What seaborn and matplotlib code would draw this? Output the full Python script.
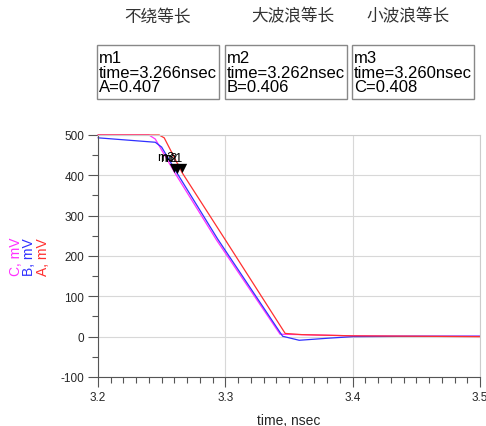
import matplotlib
matplotlib.use("Agg")
import matplotlib.pyplot as plt
import seaborn as sns
import pandas as pd
from matplotlib.ticker import MultipleLocator

# ---- data ----
time_A = [3.200, 3.248, 3.252, 3.266, 3.300, 3.347, 3.360, 3.400, 3.450, 3.500]
val_A  = [500,   500,   493,   407,   240,   8,     5,     2,     1,     0]
time_B = [3.200, 3.245, 3.250, 3.262, 3.294, 3.345, 3.358, 3.380, 3.400, 3.450, 3.500]
val_B  = [493,   482,   470,   406,   242,   1,     -9,    -4,    0,     1,     1]
time_C = [3.200, 3.240, 3.245, 3.260, 3.293, 3.343, 3.360, 3.400, 3.450, 3.500]
val_C  = [500,   500,   490,   408,   240,   6,     5,     2,     1,     1]

marker_names = ["m1", "m2", "m3"]
marker_times = [3.266, 3.262, 3.260]
marker_vals  = [407, 406, 408]
marker_series = ["A", "B", "C"]

titles = ["不绕等长", "大波浪等长", "小波浪等长"]
x_ticks = [3.2, 3.3, 3.4, 3.5]
y_ticks = [-100, 0, 100, 200, 300, 400, 500]

colors = {"A": "#ff3030", "B": "#3030ff", "C": "#ff30ff"}

df = pd.concat([
    pd.DataFrame({"time": time_A, "mV": val_A, "series": "A"}),
    pd.DataFrame({"time": time_B, "mV": val_B, "series": "B"}),
    pd.DataFrame({"time": time_C, "mV": val_C, "series": "C"}),
])
mk = pd.DataFrame({"time": marker_times, "mV": marker_vals, "name": marker_names})

sns.set_style("white")
plt.rcParams["font.family"] = ["Liberation Sans", "Noto Sans CJK SC", "DejaVu Sans"]
plt.rcParams["axes.unicode_minus"] = False

fig = plt.figure(figsize=(4.86, 4.27), dpi=100)
ax = fig.add_axes([0.2016, 0.1148, 0.7861, 0.5667])

sns.lineplot(data=df, x="time", y="mV", hue="series", palette=colors,
             hue_order=["C", "B", "A"], linewidth=0.9, legend=False, ax=ax,
             estimator=None, sort=False)
for ln in ax.lines:
    ln.set_clip_on(False)
ax.scatter(mk["time"], mk["mV"] + 10, marker="v", s=45, color="black",
           zorder=5, linewidths=0)
for _, r in mk.iterrows():
    ax.text(r["time"], r["mV"] + 37, r["name"], ha="right", va="center",
            fontsize=9, color="black")

ax.set_xlim(3.2, 3.5)
ax.set_ylim(-100, 500)
ax.set_xticks(x_ticks)
ax.set_xticklabels([f"{t:.1f}" for t in x_ticks])
ax.set_yticks(y_ticks)
ax.xaxis.set_minor_locator(MultipleLocator(0.01))
ax.yaxis.set_minor_locator(MultipleLocator(50))
ax.tick_params(axis="both", which="major", length=7, width=0.8, color="#555555",
               labelsize=8.5, direction="out", pad=3)
ax.tick_params(axis="both", which="minor", length=4, width=0.8, color="#555555",
               direction="out")
ax.tick_params(axis="x", bottom=True, which="both")
ax.tick_params(axis="y", left=True, which="both")
ax.grid(True, which="major", color="#d8d8d8", linewidth=0.8)
for s in ["top", "right"]:
    ax.spines[s].set_color("#cccccc")
    ax.spines[s].set_linewidth(0.8)
for s in ["left", "bottom"]:
    ax.spines[s].set_color("#555555")
    ax.spines[s].set_linewidth(0.8)
ax.set_xlabel("")
ax.set_ylabel("")
fig.text(289 / 486, 1 - 421 / 427, "time, nsec", ha="center", va="center", fontsize=10)

# colored y labels
for xc, lab, c in [(16, "C, mV", colors["C"]), (29, "B, mV", colors["B"]),
                   (43, "A, mV", colors["A"])]:
    fig.text(xc / 486, 1 - 257 / 427, lab, rotation=90, color=c, fontsize=10,
             ha="center", va="center")

# titles
for xc, t in zip([158, 293, 408], titles):
    fig.text(xc / 486, 1 - 17 / 427, t, ha="center", va="center", fontsize=12,
             color="#333333", family=["Noto Sans CJK SC", "DejaVu Sans"])

# marker boxes
box_lefts = [97, 225, 352]
box_width = 122
for bl, name, t, s, v in zip(box_lefts, marker_names, marker_times, marker_series, marker_vals):
    rect = plt.Rectangle((bl / 486, 1 - 100 / 427), box_width / 486, 54 / 427,
                         transform=fig.transFigure, fill=False, edgecolor="#888888",
                         linewidth=1.0)
    fig.add_artist(rect)
    txt = f"{name}\ntime={t:.3f}nsec\n{s}={v/1000:.3f}"
    fig.text((bl + 2) / 486, 1 - 73 / 427, txt, ha="left", va="center",
             fontsize=12, linespacing=0.95, color="black")

fig.savefig("out.png", dpi=100)
